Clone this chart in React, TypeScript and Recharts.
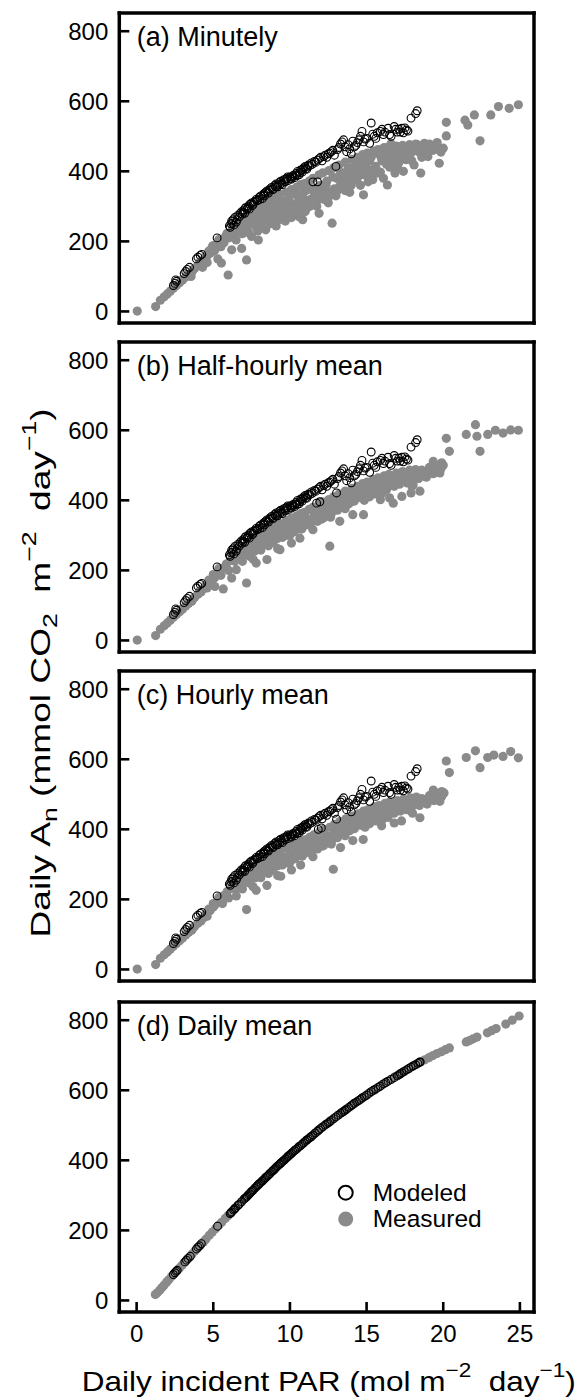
import React from 'react';
import { Scatter, ScatterChart, XAxis, YAxis } from 'recharts';

// Daily An vs daily incident PAR, four temporal resolutions.
type Pt = [number, number];

const X_TICKS = [0, 5, 10, 15, 20, 25];
const Y_TICKS = [0, 200, 400, 600, 800];
const X_DOMAIN: [number, number] = [-1.13, 25.92];
const Y_DOMAIN: [number, number] = [-33, 852];

const PANEL_TITLES = ['(a) Minutely', '(b) Half-hourly mean', '(c) Hourly mean', '(d) Daily mean'];

// modeled days that sit on the same band in panels a-c
const MODELED_BAND: Pt[] = [
  [2.4, 74], [2.5, 80], [2.6, 86], [2.55, 90], [3.1, 108], [3.2, 114], [3.3, 120], [3.45, 126],
  [3.9, 150], [4.0, 155], [4.15, 160], [4.25, 163], [5.25, 210],
  [6.05, 244], [6.15, 250], [6.2, 258], [6.3, 262], [6.4, 268], [6.5, 255], [6.6, 274], [6.75, 280],
  [6.85, 285], [6.9, 278], [7.0, 290], [7.1, 296], [7.2, 292], [7.3, 301], [7.4, 306], [7.5, 310],
  [7.55, 302], [7.7, 314], [7.8, 320], [7.9, 318], [8.0, 326], [8.1, 330], [8.2, 322], [8.3, 336],
  [8.4, 340], [8.5, 344], [8.6, 338], [8.7, 350], [8.8, 354], [8.9, 348], [9.0, 360], [9.1, 364],
  [9.2, 356], [9.3, 368], [9.4, 372], [9.5, 362], [9.6, 376], [9.7, 370], [9.8, 380], [9.9, 374],
  [10.0, 384], [10.1, 378], [10.2, 388], [10.3, 382], [10.4, 394], [10.5, 400], [10.6, 390],
  [10.7, 404], [10.8, 398], [10.9, 410], [11.0, 414], [11.1, 406], [11.2, 418], [11.4, 424],
  [11.6, 428], [11.8, 432], [12.0, 440], [12.1, 430], [12.3, 446], [12.5, 450], [12.7, 456],
  [12.9, 446], [13.1, 462], [13.3, 478], [13.5, 490], [13.6, 470], [13.7, 456], [13.9, 464],
  [14.0, 450], [14.2, 470], [14.4, 482], [14.6, 500], [14.7, 514], [14.9, 492], [15.2, 480],
  [15.3, 538], [15.5, 500], [15.6, 494], [15.9, 514], [16.1, 505], [16.4, 523], [16.6, 500],
  [16.8, 528], [17.0, 512], [17.1, 520], [17.3, 523], [17.4, 510], [17.6, 518], [17.9, 552],
  [18.2, 565], [18.3, 573],
  [6.1, 240], [6.25, 252], [6.35, 247], [6.55, 262], [6.7, 270], [6.95, 283], [7.05, 280],
  [7.25, 296], [7.35, 292], [7.6, 306], [7.65, 312], [7.85, 316], [8.05, 320], [8.25, 332],
  [8.35, 330], [8.55, 340], [8.65, 346], [8.85, 350], [9.05, 356], [9.15, 358], [9.35, 362],
  [9.45, 366], [9.65, 372], [9.75, 378], [9.85, 384], [10.05, 380], [10.15, 384], [10.35, 390],
  [10.45, 388], [10.65, 396], [10.75, 402], [10.85, 406], [11.05, 408], [11.15, 414], [11.3, 416],
  [11.45, 420], [11.7, 426], [11.9, 436], [12.2, 442], [12.4, 440], [12.6, 452], [12.8, 460],
  [13.2, 468], [13.4, 484], [13.8, 476], [14.1, 486], [14.3, 474], [14.5, 490], [14.8, 484],
  [15.0, 494], [15.4, 506], [15.7, 510], [16.0, 520], [16.2, 512], [16.5, 505], [16.9, 520],
  [17.2, 512], [17.5, 524], [17.7, 515],
];
const MODELED_A_EXTRA: Pt[] = [[11.5, 370], [11.8, 370], [13.0, 414]];
const MODELED_B_EXTRA: Pt[] = [[11.74, 392], [11.95, 396], [13.04, 421]];
const MODELED_C_EXTRA: Pt[] = [[11.85, 400], [12.05, 404], [13.04, 429]];

// measured days close to the curve at low light, same in panels a-c
const MEASURED_LOW: Pt[] = [
  [0.04, 1], [1.24, 14], [1.55, 32], [1.8, 42], [2.0, 50], [2.2, 58], [2.4, 66], [2.6, 74],
  [2.8, 82], [3.0, 90], [3.2, 98], [3.4, 106], [3.6, 112], [3.8, 124], [4.0, 132], [4.2, 138],
  [4.4, 148], [2.5, 72], [2.9, 88], [3.3, 104], [3.7, 120], [4.1, 140], [4.5, 158], [4.7, 172],
  [5.0, 188], [5.35, 205],
];

const MEASURED_A: Pt[] = [
  [3.55, 100], [4.3, 126], [4.57, 157], [4.6, 140], [4.8, 166], [4.93, 185], [5.0, 172],
  [5.2, 190], [5.3, 150], [5.53, 138], [5.5, 185], [5.53, 204], [5.7, 196], [5.9, 223],
  [5.97, 104], [6.0, 210], [6.2, 176], [6.3, 228], [6.49, 204], [6.6, 236], [6.85, 180],
  [6.9, 222], [7.0, 248], [7.17, 147], [7.2, 236], [7.4, 258], [7.5, 214], [7.7, 268],
  [7.8, 240], [7.94, 204], [8.0, 278], [8.2, 256], [8.3, 290], [8.42, 233], [8.5, 270],
  [8.6, 300], [8.8, 284], [8.9, 262], [9.0, 306], [9.1, 244], [9.2, 292], [9.38, 281],
  [9.4, 318], [9.6, 300], [9.7, 258], [9.87, 271], [9.9, 326], [10.0, 306], [10.2, 286],
  [10.35, 290], [10.4, 334], [10.5, 312], [10.6, 270], [10.83, 262], [10.9, 340], [11.0, 318],
  [11.1, 296], [11.3, 300], [11.4, 350], [11.6, 330], [11.8, 318], [11.9, 280], [12.0, 360],
  [12.1, 342], [12.27, 337], [12.4, 372], [12.5, 310], [12.75, 252], [12.8, 384], [12.9, 350],
  [13.0, 330], [13.24, 357], [13.3, 396], [13.5, 378], [13.72, 366], [13.8, 410], [13.9, 340],
  [14.0, 392], [14.2, 376], [14.3, 420], [14.5, 400], [14.6, 360], [14.8, 333], [14.9, 430],
  [15.0, 410], [15.16, 395], [15.3, 440], [15.4, 376], [15.6, 414], [15.8, 450], [15.9, 398],
  [16.0, 430], [16.2, 460], [16.36, 361], [16.5, 412], [16.6, 479], [16.85, 395], [16.9, 446],
  [17.09, 423], [17.2, 466], [17.4, 400], [17.57, 433], [17.7, 470], [17.9, 452], [18.1, 418],
  [18.3, 476], [18.53, 395], [18.6, 460], [18.77, 480], [19.0, 442], [19.2, 468], [19.5, 471],
  [19.74, 423], [20.0, 466], [20.2, 501], [20.2, 540], [21.42, 546], [21.6, 532], [22.03, 561],
  [22.4, 487], [23.1, 561], [23.6, 585], [24.3, 580], [24.9, 590],
  [5.1, 175], [5.4, 192], [5.6, 205], [5.8, 215], [6.1, 225], [6.25, 238], [6.4, 222],
  [6.55, 245], [6.7, 255], [6.8, 232], [7.05, 262], [7.25, 272], [7.35, 250], [7.6, 282],
  [7.75, 290], [7.85, 262], [8.05, 296], [8.15, 270], [8.35, 305], [8.55, 288], [8.7, 315],
  [8.85, 298], [9.05, 325], [9.15, 280], [9.3, 335], [9.5, 312], [9.55, 290], [9.75, 340],
  [9.95, 318], [10.1, 348], [10.25, 300], [10.45, 355], [10.55, 330], [10.7, 362], [10.75, 292],
  [10.95, 365], [11.05, 345], [11.25, 372], [11.35, 320], [11.5, 380], [11.7, 352], [11.9, 390],
  [12.05, 328], [12.15, 396], [12.35, 360], [12.55, 402], [12.65, 340], [12.85, 410], [13.05, 380],
  [13.2, 418], [13.45, 396], [13.6, 426], [13.85, 380], [14.05, 434], [14.15, 410], [14.4, 440],
  [14.55, 420], [14.75, 448], [14.85, 390], [15.05, 452], [15.2, 430], [15.45, 458], [15.55, 410],
  [15.75, 462], [15.95, 440], [16.15, 468], [16.3, 420], [16.45, 470], [16.7, 455], [16.95, 472],
  [17.15, 440], [17.35, 474], [17.5, 450], [17.8, 476], [17.95, 430], [18.2, 478], [18.4, 456],
  [18.7, 468], [18.9, 455], [19.1, 478], [19.35, 460], [19.6, 482], [19.85, 455],
  [7.3, 225], [7.6, 250], [7.9, 230], [8.1, 245], [8.4, 262], [8.7, 250], [9.0, 275], [9.3, 262],
  [9.6, 280], [9.8, 292], [10.1, 268], [10.4, 300], [10.7, 310], [11.0, 285], [11.2, 310],
  [11.5, 345], [11.75, 300], [12.2, 320], [12.6, 330], [13.1, 345], [13.4, 360], [13.6, 345],
  [14.0, 360], [14.4, 380], [14.7, 395], [15.1, 370], [15.3, 385], [15.7, 395], [16.1, 380],
  [16.4, 440], [16.7, 430], [17.0, 410], [17.3, 445], [17.8, 440], [18.1, 460], [18.6, 440],
];

const MEASURED_B: Pt[] = [
  [4.6, 150], [4.8, 166], [5.0, 176], [5.1, 154], [5.3, 196], [5.5, 186], [5.65, 147],
  [5.8, 210], [6.0, 200], [6.2, 178], [6.3, 230], [6.5, 202], [6.7, 240], [6.9, 226],
  [7.0, 252], [7.17, 164], [7.3, 244], [7.5, 264], [7.6, 232], [7.8, 221], [7.9, 276],
  [8.1, 258], [8.3, 288], [8.5, 231], [8.6, 270], [8.7, 298], [8.9, 280], [9.1, 308],
  [9.2, 262], [9.35, 259], [9.5, 294], [9.6, 318], [9.8, 300], [10.0, 328], [10.1, 278],
  [10.3, 312], [10.5, 338], [10.65, 292], [10.8, 320], [11.0, 346], [11.2, 330], [11.5, 316],
  [11.6, 358], [11.8, 340], [12.0, 368], [12.2, 350], [12.4, 380], [12.6, 269], [12.7, 362],
  [12.9, 392], [13.1, 372], [13.25, 340], [13.4, 404], [13.6, 386], [13.8, 414], [14.1, 359],
  [14.2, 398], [14.4, 424], [14.6, 408], [14.8, 359], [14.9, 436], [15.1, 420], [15.3, 446],
  [15.5, 428], [15.7, 456], [15.9, 402], [16.0, 440], [16.2, 464], [16.3, 430], [16.5, 407],
  [16.6, 452], [16.74, 392], [16.9, 470], [17.1, 458], [17.3, 411], [17.4, 476], [17.6, 464],
  [17.9, 421], [18.0, 480], [18.04, 444], [18.2, 470], [18.48, 426], [18.6, 486], [18.9, 476],
  [19.1, 494], [19.35, 511], [19.56, 488], [19.78, 478], [19.9, 507], [20.2, 577], [20.4, 540],
  [21.5, 588], [22.1, 616], [22.2, 583], [22.4, 540], [22.9, 588], [23.4, 600], [23.9, 592],
  [24.4, 601], [24.9, 600],
  [5.1, 180], [5.4, 196], [5.6, 206], [5.85, 218], [6.1, 228], [6.25, 240], [6.4, 226],
  [6.55, 248], [6.7, 258], [6.8, 236], [7.05, 266], [7.25, 274], [7.35, 256], [7.6, 284],
  [7.75, 292], [7.85, 268], [8.05, 298], [8.15, 276], [8.35, 306], [8.55, 292], [8.7, 316],
  [8.85, 302], [9.05, 326], [9.15, 290], [9.3, 334], [9.5, 316], [9.55, 300], [9.75, 342],
  [9.95, 322], [10.1, 350], [10.25, 310], [10.45, 356], [10.55, 336], [10.7, 362], [10.75, 318],
  [10.95, 366], [11.05, 350], [11.25, 374], [11.35, 334], [11.5, 380], [11.7, 358], [11.9, 390],
  [12.05, 346], [12.15, 396], [12.35, 370], [12.55, 402], [12.65, 352], [12.85, 410], [13.05, 388],
  [13.2, 418], [13.45, 400], [13.6, 426], [13.85, 390], [14.05, 434], [14.15, 414], [14.4, 440],
  [14.55, 424], [14.75, 448], [14.85, 400], [15.05, 452], [15.2, 434], [15.45, 460], [15.55, 418],
  [15.75, 464], [15.95, 446], [16.15, 470], [16.3, 440], [16.45, 474], [16.7, 460], [16.95, 478],
  [17.15, 446], [17.35, 482], [17.5, 458], [17.8, 486], [17.95, 440], [18.2, 488], [18.4, 462],
  [18.7, 480], [18.9, 466], [19.1, 492], [19.35, 476], [19.6, 498], [19.85, 490], [20.0, 500],
  [7.4, 240], [7.7, 255], [8.0, 262], [8.4, 275], [8.8, 292], [9.2, 300], [9.6, 308], [10.0, 300],
  [10.4, 322], [10.8, 338], [11.2, 345], [11.6, 342], [12.0, 352], [12.4, 360], [12.8, 376],
  [13.2, 392], [13.6, 376], [14.0, 396], [14.4, 410], [14.8, 420], [15.2, 410], [15.6, 440],
  [16.0, 420], [16.4, 450], [16.8, 440], [17.2, 470], [17.6, 450], [18.0, 462],
];

const MEASURED_C: Pt[] = [
  [4.6, 152], [4.8, 168], [5.0, 178], [5.2, 190], [5.4, 198], [5.6, 188], [5.8, 212],
  [6.0, 204], [6.3, 232], [6.5, 210], [6.7, 242], [6.9, 230], [7.0, 254], [7.17, 171],
  [7.3, 248], [7.5, 266], [7.6, 236], [7.8, 226], [7.9, 278], [8.1, 262], [8.3, 290],
  [8.5, 240], [8.6, 274], [8.7, 300], [8.9, 284], [9.1, 310], [9.2, 268], [9.4, 266],
  [9.5, 298], [9.6, 320], [9.8, 304], [10.0, 330], [10.1, 284], [10.3, 316], [10.5, 340],
  [10.7, 298], [10.8, 324], [11.0, 348], [11.2, 334], [11.5, 322], [11.6, 360], [11.8, 344],
  [12.0, 370], [12.2, 354], [12.4, 382], [12.83, 286], [12.7, 366], [12.9, 394], [13.1, 376],
  [13.3, 348], [13.4, 406], [13.6, 390], [13.8, 416], [14.1, 368], [14.2, 402], [14.4, 426],
  [14.6, 412], [14.78, 371], [14.9, 438], [15.1, 424], [15.3, 448], [15.5, 432], [15.7, 458],
  [15.98, 410], [16.0, 444], [16.2, 466], [16.4, 434], [16.6, 454], [16.8, 418], [16.9, 472],
  [17.1, 460], [17.28, 424], [17.4, 478], [17.6, 466], [17.9, 452], [18.0, 482], [18.2, 472],
  [18.48, 433], [18.6, 488], [18.9, 478], [19.1, 496], [19.35, 512], [19.56, 490], [19.78, 480],
  [19.9, 508], [20.2, 595], [20.4, 562], [21.5, 605], [22.1, 624], [22.4, 576], [22.9, 605],
  [23.3, 612], [23.9, 608], [24.4, 622], [24.9, 604],
  [5.1, 184], [5.45, 200], [5.65, 210], [5.9, 222], [6.15, 232], [6.3, 244], [6.45, 230],
  [6.6, 252], [6.75, 262], [6.85, 242], [7.1, 270], [7.3, 278], [7.4, 262], [7.65, 288],
  [7.8, 296], [7.9, 274], [8.1, 302], [8.2, 282], [8.4, 310], [8.6, 298], [8.75, 320],
  [8.9, 308], [9.1, 330], [9.2, 296], [9.35, 338], [9.55, 322], [9.6, 306], [9.8, 346],
  [10.0, 326], [10.15, 354], [10.3, 316], [10.5, 360], [10.6, 342], [10.75, 366], [10.8, 324],
  [11.0, 370], [11.1, 356], [11.3, 378], [11.4, 340], [11.55, 384], [11.75, 364], [11.95, 394],
  [12.1, 352], [12.2, 400], [12.4, 376], [12.6, 406], [12.7, 358], [12.9, 414], [13.1, 394],
  [13.25, 422], [13.5, 404], [13.65, 430], [13.9, 396], [14.1, 438], [14.2, 420], [14.45, 444],
  [14.6, 430], [14.8, 452], [14.9, 406], [15.1, 456], [15.25, 440], [15.5, 464], [15.6, 424],
  [15.8, 468], [16.0, 452], [16.2, 474], [16.35, 446], [16.5, 478], [16.75, 466], [17.0, 482],
  [17.2, 452], [17.4, 486], [17.55, 464], [17.85, 490], [18.0, 446], [18.25, 492], [18.45, 468],
  [18.75, 484], [18.95, 472], [19.15, 496], [19.4, 482], [19.65, 502], [19.9, 494], [20.05, 504],
  [7.4, 246], [7.7, 261], [8.0, 268], [8.4, 281], [8.8, 298], [9.2, 306], [9.6, 314], [10.0, 306],
  [10.4, 328], [10.8, 344], [11.2, 351], [11.6, 348], [12.0, 358], [12.4, 366], [12.8, 382],
  [13.2, 398], [13.6, 382], [14.0, 402], [14.4, 416], [14.8, 426], [15.2, 416], [15.6, 446],
  [16.0, 426], [16.4, 456], [16.8, 446], [17.2, 476], [17.6, 456], [18.0, 468],
];

const MEASURED_D: Pt[] = [
  [1.22, 17], [1.35, 22], [1.52, 30], [1.66, 37], [1.8, 44], [1.97, 53], [2.1, 59], [2.28, 68],
  [2.44, 76], [2.62, 85], [2.78, 92], [2.95, 100], [3.12, 108], [3.3, 117], [3.46, 124],
  [3.61, 132], [3.8, 141], [3.97, 149], [4.15, 157], [4.36, 167], [4.52, 175], [4.74, 186],
  [4.93, 195], [5.15, 205], [5.36, 215], [5.55, 223], [5.78, 234], [5.96, 242], [6.18, 252],
  [6.4, 262], [6.62, 272], [6.83, 281], [7.05, 291], [7.27, 300], [7.5, 311], [7.72, 321],
  [7.96, 331], [8.2, 342], [8.42, 351], [8.67, 362], [8.9, 371], [9.15, 382], [9.4, 392],
  [9.63, 401], [9.88, 412], [10.12, 420], [10.37, 430], [10.6, 440], [10.86, 449], [11.1, 458],
  [11.34, 466], [11.6, 476], [11.85, 486], [12.1, 494], [12.36, 503], [12.62, 512], [12.88, 520],
  [13.14, 529], [13.4, 537], [13.67, 546], [13.93, 554], [14.2, 563], [14.46, 570], [14.72, 578],
  [15.0, 586], [15.25, 594], [15.52, 601], [15.8, 609], [16.06, 617], [16.33, 624], [16.6, 631],
  [16.88, 639], [17.15, 646], [17.43, 653], [17.7, 660], [17.98, 668], [18.25, 675], [18.52, 681],
  [18.8, 687], [19.06, 693], [19.33, 699], [19.6, 705], [19.88, 710], [20.14, 716], [20.4, 721],
  [21.5, 738], [21.72, 742], [21.95, 747], [22.2, 752], [22.88, 764], [23.15, 770], [23.45, 776],
  [24.08, 789], [24.5, 800], [24.95, 812],
];

const MODELED_D: Pt[] = [
  [2.4, 74], [2.5, 79], [2.58, 83], [2.65, 86], [3.15, 110], [3.25, 115], [3.35, 120], [3.5, 126],
  [3.9, 147], [4.0, 152], [4.1, 156], [4.22, 162], [5.28, 212], [6.1, 248], [6.2, 253],
  [6.32, 258], [6.45, 264], [6.6, 271], [7.0, 289], [7.15, 295], [7.3, 302], [7.45, 309],
  [7.6, 315], [7.8, 324], [7.95, 331], [8.1, 337], [8.3, 345], [8.45, 352], [8.6, 358],
  [8.8, 367], [8.95, 373], [9.1, 380], [9.3, 388], [9.45, 394], [9.6, 400], [9.8, 408],
  [9.95, 414], [10.1, 420], [10.3, 428], [10.5, 435], [10.7, 442], [10.9, 450], [11.1, 458],
  [11.3, 465], [11.5, 472], [11.8, 483], [12.0, 491], [12.3, 501], [12.5, 507], [12.7, 514],
  [13.0, 524], [13.3, 534], [13.5, 540], [13.7, 546], [14.0, 556], [14.2, 563], [14.5, 571],
  [14.7, 578], [15.0, 586], [15.3, 596], [15.6, 604], [15.9, 612], [16.4, 626], [16.8, 636],
  [17.1, 644], [17.3, 650], [17.6, 658], [17.9, 666], [18.2, 673], [18.35, 677], [18.5, 681],
  [6.15, 250], [6.38, 261], [6.7, 275], [6.85, 282], [7.08, 292], [7.22, 298], [7.38, 305],
  [7.52, 312], [7.7, 320], [7.88, 328], [8.02, 334], [8.2, 341], [8.38, 349], [8.52, 355],
  [8.7, 362], [8.88, 370], [9.02, 376], [9.2, 384], [9.38, 391], [9.52, 397], [9.7, 404],
  [9.88, 411], [10.02, 417], [10.2, 424], [10.4, 431], [10.6, 439], [10.8, 446], [11.0, 454],
  [11.2, 461], [11.4, 468], [11.65, 478], [11.9, 487], [12.15, 496], [12.4, 504], [12.6, 510],
  [12.85, 519], [13.15, 529], [13.4, 537], [13.6, 543], [13.85, 551], [14.1, 559], [14.35, 567],
  [14.6, 574], [14.85, 582], [15.15, 591], [15.45, 600], [15.75, 608], [16.1, 618], [16.25, 622],
  [16.6, 631], [17.0, 641], [17.2, 647], [17.45, 654], [17.75, 662], [18.05, 670], [18.45, 680],
];

const FONT = '"Liberation Sans", Arial, Helvetica, sans-serif';
const GRAY = '#8a8a8a';
const BORDER = { stroke: '#000', strokeWidth: 3.5, strokeLinecap: 'square' as const };
const TICK_LINE = { stroke: '#000', strokeWidth: 2.6 };
const TICK_TEXT = { fill: '#000', fontSize: 24, fontFamily: FONT };

const PANEL_TOPS = [12.7, 341.7, 671, 1001.7];

const toRows = (pts: Pt[]) => pts.map(([x, y]) => ({ x, y }));

const GrayDot = (props: any) => (
  <circle cx={props.cx} cy={props.cy} r={4.6} fill={GRAY} />
);
const OpenDot = (props: any) => (
  <circle cx={props.cx} cy={props.cy} r={3.9} fill="none" stroke="#000" strokeWidth={1.1} />
);

function Panel({
  top,
  measured,
  modeled,
  topTicks,
  bottomTicks,
}: {
  top: number;
  measured: Pt[];
  modeled: Pt[];
  topTicks: boolean;
  bottomTicks: boolean;
}) {
  const bottomH = bottomTicks ? 60 : 10;
  return (
    <div style={{ position: 'absolute', left: 0, top: top - 10 }}>
      <ScatterChart width={579} height={320 + bottomH} margin={{ top: 0, right: 0, bottom: 0, left: 0 }}>
        <XAxis
          xAxisId="b"
          type="number"
          dataKey="x"
          orientation="bottom"
          domain={X_DOMAIN}
          ticks={X_TICKS}
          allowDataOverflow
          height={bottomH}
          axisLine={BORDER}
          tickLine={bottomTicks ? TICK_LINE : false}
          tickSize={-10}
          tickMargin={23}
          tick={bottomTicks ? TICK_TEXT : false}
        />
        <XAxis
          xAxisId="t"
          type="number"
          orientation="top"
          domain={X_DOMAIN}
          ticks={X_TICKS}
          allowDataOverflow
          height={10}
          axisLine={BORDER}
          tickLine={topTicks ? TICK_LINE : false}
          tickSize={-10}
          tick={false}
        />
        <YAxis
          yAxisId="l"
          type="number"
          dataKey="y"
          domain={Y_DOMAIN}
          ticks={Y_TICKS}
          allowDataOverflow
          width={119.3}
          axisLine={BORDER}
          tickLine={TICK_LINE}
          tickSize={-10}
          tickMargin={21}
          tick={TICK_TEXT}
        />
        <YAxis
          yAxisId="r"
          type="number"
          orientation="right"
          domain={Y_DOMAIN}
          ticks={Y_TICKS}
          allowDataOverflow
          width={45}
          axisLine={BORDER}
          tickLine={TICK_LINE}
          tickSize={-10}
          tick={false}
        />
        <Scatter xAxisId="b" yAxisId="l" data={toRows(measured)} shape={GrayDot} isAnimationActive={false} />
        <Scatter xAxisId="b" yAxisId="l" data={toRows(modeled)} shape={OpenDot} isAnimationActive={false} />
      </ScatterChart>
    </div>
  );
}

export default function App() {
  const panels = [
    { measured: [...MEASURED_LOW, ...MEASURED_A], modeled: [...MODELED_BAND, ...MODELED_A_EXTRA] },
    { measured: [...MEASURED_LOW, ...MEASURED_B], modeled: [...MODELED_BAND, ...MODELED_B_EXTRA] },
    { measured: [...MEASURED_LOW, ...MEASURED_C], modeled: [...MODELED_BAND, ...MODELED_C_EXTRA] },
    { measured: MEASURED_D, modeled: MODELED_D },
  ];

  return (
    <div style={{ position: 'absolute', left: 0, top: 0, width: 579, height: 1398, background: '#fff' }}>
      {panels.map((p, i) => (
        <Panel
          key={i}
          top={PANEL_TOPS[i]}
          measured={p.measured}
          modeled={p.modeled}
          topTicks={i === 0}
          bottomTicks={i === 3}
        />
      ))}
      <svg
        width={579}
        height={1398}
        style={{ position: 'absolute', left: 0, top: 0, pointerEvents: 'none' }}
        fontFamily={FONT}
      >
        {PANEL_TITLES.map((t, i) => (
          <text key={t} x={136.7} y={PANEL_TOPS[i] + 33} fontSize={27} fill="#000">
            {t}
          </text>
        ))}

        <circle cx={345.7} cy={1192.7} r={7} fill="none" stroke="#000" strokeWidth={2} />
        <circle cx={345.7} cy={1219} r={7.5} fill={GRAY} />
        <text x={372.7} y={1200.5} fontSize={24.5} fill="#000">Modeled</text>
        <text x={372.7} y={1227} fontSize={24.5} fill="#000">Measured</text>

        <text
          x={81.7}
          y={1391}
          fontSize={28}
          fill="#000"
          textLength={494}
          lengthAdjust="spacingAndGlyphs"
          style={{ whiteSpace: 'pre' }}
        >
          Daily incident PAR (mol m
          <tspan dy={-14} fontSize={20}>−2</tspan>
          <tspan dy={14}>  day</tspan>
          <tspan dy={-14} fontSize={20}>−1</tspan>
          <tspan dy={14}>)</tspan>
        </text>

        <text
          x={50}
          y={673}
          fontSize={28}
          fill="#000"
          textAnchor="middle"
          textLength={529}
          lengthAdjust="spacingAndGlyphs"
          transform="rotate(-90, 50, 673)"
          style={{ whiteSpace: 'pre' }}
        >
          Daily A
          <tspan dy={7} fontSize={20}>n</tspan>
          <tspan dy={-7}> (mmol CO</tspan>
          <tspan dy={7} fontSize={20}>2</tspan>
          <tspan dy={-7}>  m</tspan>
          <tspan dy={-14} fontSize={20}>−2</tspan>
          <tspan dy={14}>  day</tspan>
          <tspan dy={-14} fontSize={20}>−1</tspan>
          <tspan dy={14}>)</tspan>
        </text>
      </svg>
    </div>
  );
}
